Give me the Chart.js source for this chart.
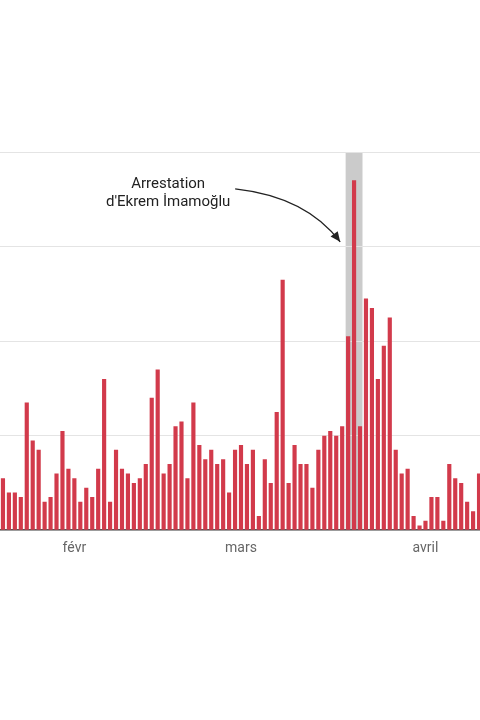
<!DOCTYPE html>
<html lang="fr">
<head>
<meta charset="utf-8">
<script src="https://cdn.jsdelivr.net/npm/chart.js@4/dist/chart.umd.min.js"></script>
<style>
  html, body { margin: 0; padding: 0; background: #fff; overflow: hidden; }
  #wrap { width: 496px; height: 720px; position: relative; left: -7px; }
</style>
</head>
<body>
<div id="wrap"><canvas id="chart"></canvas></div>
<script>
// daily counts, 20 janv -> 10 avril
const startDate = [2025, 0, 20];
const counts = [
  11, 8, 8, 7, 27, 19, 17, 6, 7, 12, 21, 13, 11, 6,
  9, 7, 13, 32, 6, 17, 13, 12, 10, 11, 14, 28, 34,
  12, 14, 22, 23, 11, 27, 18, 15, 17, 14, 15, 8, 17, 18, 14, 17, 3, 15, 10, 25, 53, 10, 18, 14, 14, 9, 17,
  20, 21, 20, 22, 41, 74, 22, 49, 47, 32, 39, 45, 17, 12, 13, 3, 1, 2, 7, 7, 2, 14, 11, 10, 6, 4, 12
];
const monthNames = ['janv', 'févr', 'mars', 'avril', 'mai'];
const yTicks = [0, 20, 40, 60, 80];
const highlight = [58, 60];   // 19 -> 21 mars
const noteLines = ['Arrestation', "d'Ekrem İmamoğlu"];

const days = counts.map((_, i) => new Date(startDate[0], startDate[1], startDate[2] + i));

const RED = '#d23a4b';
const INK = '#222';

// grey band behind the arrest days (drawn before the grid)
const bandPlugin = {
  id: 'band',
  beforeDraw(chart) {
    const { ctx, chartArea, scales: { x } } = chart;
    const half = (x.getPixelForValue(1) - x.getPixelForValue(0)) / 2;
    const x0 = x.getPixelForValue(highlight[0]) - half + 0.5;
    const x1 = x.getPixelForValue(highlight[1]) + half - 0.5;
    ctx.save();
    ctx.fillStyle = '#cbcbcb';
    ctx.fillRect(x0, chartArea.top, x1 - x0, chartArea.bottom - chartArea.top);
    ctx.restore();
  }
};

// text + curved arrow
const notePlugin = {
  id: 'note',
  afterDraw(chart) {
    const { ctx, scales: { x, y } } = chart;
    const tipX = x.getPixelForValue(highlight[0] - 1) - 2;
    const tipY = y.getPixelForValue(61);
    const sx = tipX - 105, sy = tipY - 53;
    const cx = tipX - 34, cy = tipY - 45;

    ctx.save();
    ctx.strokeStyle = INK;
    ctx.fillStyle = INK;
    ctx.lineWidth = 1.4;
    ctx.beginPath();
    ctx.moveTo(sx, sy);
    ctx.quadraticCurveTo(cx, cy, tipX, tipY);
    ctx.stroke();

    const a = Math.atan2(tipY - cy, tipX - cx);
    const len = 10, w = 4.5;
    ctx.beginPath();
    ctx.moveTo(tipX, tipY);
    ctx.lineTo(tipX - len * Math.cos(a) + w * Math.sin(a), tipY - len * Math.sin(a) - w * Math.cos(a));
    ctx.lineTo(tipX - len * Math.cos(a) - w * Math.sin(a), tipY - len * Math.sin(a) + w * Math.cos(a));
    ctx.closePath();
    ctx.fill();

    ctx.font = '15px Roboto';
    ctx.textAlign = 'center';
    ctx.textBaseline = 'middle';
    const tx = tipX - 172;
    noteLines.forEach((line, i) => ctx.fillText(line, tx, tipY - 58 + i * 18.7));
    ctx.restore();
  }
};

new Chart(document.getElementById('chart'), {
  type: 'bar',
  data: {
    labels: days,
    datasets: [{
      data: counts,
      backgroundColor: RED,
      borderWidth: 0,
      barPercentage: 0.7,
      categoryPercentage: 1
    }]
  },
  options: {
    responsive: true,
    maintainAspectRatio: false,
    animation: false,
    layout: { padding: { top: 152, bottom: 153, left: 0, right: 0 } },
    plugins: { legend: { display: false }, tooltip: { enabled: false } },
    scales: {
      x: {
        offset: true,
        grid: { display: false, drawTicks: false },
        border: { display: true, color: '#555', width: 1.5 },
        ticks: {
          autoSkip: false,
          maxRotation: 0,
          padding: 10,
          color: '#666',
          font: { family: 'Roboto', size: 14 },
          callback(v, i) {
            const d = days[i];
            return d.getDate() === 1 ? monthNames[d.getMonth()] : '';
          }
        }
      },
      y: {
        min: yTicks[0],
        max: yTicks[yTicks.length - 1],
        afterBuildTicks(s) { s.ticks = yTicks.map(v => ({ value: v })); },
        afterFit(s) { s.width = 0; },
        grid: { color: '#e4e4e4', lineWidth: 1, drawTicks: false },
        border: { display: false },
        ticks: { display: false }
      }
    }
  },
  plugins: [bandPlugin, notePlugin]
});
</script>
</body>
</html>
